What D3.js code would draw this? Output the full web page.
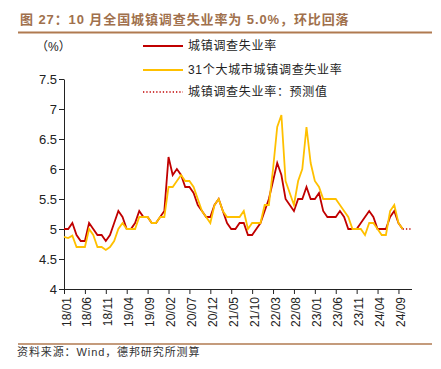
<!DOCTYPE html>
<html>
<head>
<meta charset="utf-8">
<script src="https://cdn.jsdelivr.net/npm/d3@7/dist/d3.min.js"></script>
<style>
  body { margin: 0; background: #fff; }
  svg text { font-family: "Liberation Sans", Arial, sans-serif; }
  .cjk { font-family: "Liberation Sans", "Noto Sans CJK SC", sans-serif; }
  .axis path, .axis line { stroke: #222; }
  .axis text { fill: #222; }
</style>
</head>
<body>
<div id="chart"></div>
<script>
// Chart data
// ----------

// 18/01 .. 24/10, monthly
let months = []
for (let y = 18; y <= 24; y++) {
  for (let m = 1; m <= 12; m++) months.push(y + '/' + String(m).padStart(2, '0'))
}
months = months.slice(0, 82)

let forecastMonths = ['24/10', '24/11', '24/12']
let forecastRate = [5.0, 5.0, 5.0]

let tickLabels = ['18/01', '18/06', '18/11', '19/04', '19/09', '20/02', '20/07', '20/12',
                  '21/05', '21/10', '22/03', '22/08', '23/01', '23/06', '23/11', '24/04', '24/09']
let yTicks = [4, 4.5, 5, 5.5, 6, 6.5, 7, 7.5]

// 城镇调查失业率 (%)
let urbanRate = [
  5.0, 5.0, 5.1, 4.9, 4.8, 4.8, 5.1, 5.0, 4.9, 4.9, 4.8, 4.9,
  5.1, 5.3, 5.2, 5.0, 5.0, 5.1, 5.3, 5.2, 5.2, 5.1, 5.1, 5.2,
  5.3, 6.2, 5.9, 6.0, 5.9, 5.7, 5.7, 5.6, 5.4, 5.3, 5.2, 5.2,
  5.4, 5.5, 5.3, 5.1, 5.0, 5.0, 5.1, 5.1, 4.9, 4.9, 5.0, 5.1,
  5.3, 5.5, 5.8, 6.1, 5.9, 5.5, 5.4, 5.3, 5.5, 5.5, 5.7, 5.5,
  5.5, 5.6, 5.3, 5.2, 5.2, 5.2, 5.3, 5.2, 5.0, 5.0, 5.0, 5.1,
  5.2, 5.3, 5.2, 5.0, 5.0, 5.0, 5.2, 5.3, 5.1, 5.0
]

// 31个大城市城镇调查失业率 (%)
let bigCityRate = [
  4.87, 4.85, 4.89, 4.7, 4.7, 4.7, 5.0, 4.9, 4.7, 4.7, 4.65, 4.7,
  4.8, 5.0, 5.1, 5.0, 5.0, 5.0, 5.2, 5.2, 5.2, 5.1, 5.1, 5.2,
  5.2, 5.7, 5.7, 5.8, 5.9, 5.8, 5.8, 5.7, 5.5, 5.3, 5.2, 5.1,
  5.4, 5.5, 5.3, 5.2, 5.2, 5.2, 5.2, 5.3, 5.0, 5.1, 5.1, 5.1,
  5.4, 5.4, 6.0, 6.7, 6.9, 5.8, 5.6, 5.4, 5.8, 6.0, 6.7, 6.1,
  5.8, 5.7, 5.5, 5.5, 5.5, 5.5, 5.4, 5.3, 5.2, 5.0, 5.0, 5.0,
  4.9, 5.1, 5.1, 5.0, 4.9, 4.9, 5.3, 5.4, 5.1, 5.0
]

let legendNames = ['城镇调查失业率', '31个大城市城镇调查失业率', '城镇调查失业率：预测值']

// Setup
// -----
let width = 441,
    height = 369,
    brown = '#a0704c',
    red = '#c00000',
    orange = '#ffc000'

let svg = d3.select('#chart').append('svg')
    .attr('width', width)
    .attr('height', height)

// Title and rules
svg.append('text')
  .attr('class', 'cjk')
  .attr('x', 20)
  .attr('y', 24)
  .attr('fill', brown)
  .style('font-size', '13px')
  .style('font-weight', 'bold')
  .style('letter-spacing', '0.9px')
  .text('图 27：10 月全国城镇调查失业率为 5.0%，环比回落')

svg.append('line')
  .attr('x1', 18).attr('x2', 432)
  .attr('y1', 32.5).attr('y2', 32.5)
  .attr('stroke', '#b07a50')
  .attr('stroke-width', 2)

svg.append('line')
  .attr('x1', 18).attr('x2', 432)
  .attr('y1', 344).attr('y2', 344)
  .attr('stroke', '#b07a50')
  .attr('stroke-width', 1.5)

svg.append('text')
  .attr('class', 'cjk')
  .attr('x', 17)
  .attr('y', 356)
  .attr('fill', '#333')
  .style('font-size', '11px')
  .style('letter-spacing', '0.9px')
  .text('资料来源：Wind，德邦研究所测算')

// Scales
let xScale = d3.scalePoint()
    .domain(months.concat(forecastMonths.slice(1)))
    .range([64, 411])

let yScale = d3.scaleLinear()
    .domain([4, 7.5])
    .range([289, 79])

// Axes
let xAxis = d3.axisBottom(xScale)
    .tickValues(tickLabels)
    .tickSize(5)
    .tickSizeOuter(0)

let yAxis = d3.axisLeft(yScale)
    .tickValues(yTicks)
    .tickSize(5)
    .tickSizeOuter(0)
    .tickFormat(d => d)

let gx = svg.append('g')
  .attr('class', 'axis axis-x')
  .attr('transform', 'translate(0,' + yScale(4) + ')')
  .call(xAxis)

gx.select('.domain').attr('d', 'M64,0.5H412')

gx.selectAll('text')
  .attr('transform', 'rotate(-90)')
  .attr('text-anchor', 'end')
  .attr('x', -8)
  .attr('y', 0)
  .attr('dy', '0.5em')
  .style('font-size', '12px')

svg.append('g')
  .attr('class', 'axis axis-y')
  .attr('transform', 'translate(64,0)')
  .call(yAxis)
  .selectAll('text')
  .attr('x', -7)
  .style('font-size', '13px')

svg.append('text')
  .attr('class', 'cjk')
  .attr('x', 36)
  .attr('y', 51)
  .attr('fill', '#222')
  .style('font-size', '12px')
  .text('（%）')

// Lines
let line = d3.line()
    .x(d => xScale(d.month))
    .y(d => yScale(d.value))

let toPoints = (keys, vals) => keys.map((k, i) => ({ month: k, value: vals[i] }))

svg.append('path')
  .datum(toPoints(forecastMonths, forecastRate))
  .attr('d', line)
  .attr('fill', 'none')
  .attr('stroke', red)
  .attr('stroke-width', 1.3)
  .attr('stroke-dasharray', '1.3,2')

svg.append('path')
  .datum(toPoints(months, urbanRate))
  .attr('d', line)
  .attr('fill', 'none')
  .attr('stroke', red)
  .attr('stroke-width', 1.8)

svg.append('path')
  .datum(toPoints(months, bigCityRate))
  .attr('d', line)
  .attr('fill', 'none')
  .attr('stroke', orange)
  .attr('stroke-width', 1.8)

// Legend
let legend = svg.append('g').attr('class', 'legend')
let legendStyles = [
  { color: red, dash: null, width: 1.8 },
  { color: orange, dash: null, width: 1.8 },
  { color: red, dash: '1.3,2', width: 1.3 }
]
let legendY = [46, 70, 92]

legendNames.forEach((name, i) => {
  legend.append('line')
    .attr('x1', 143).attr('x2', 183)
    .attr('y1', legendY[i]).attr('y2', legendY[i])
    .attr('stroke', legendStyles[i].color)
    .attr('stroke-width', legendStyles[i].width)
    .attr('stroke-dasharray', legendStyles[i].dash)

  legend.append('text')
    .attr('class', 'cjk')
    .attr('x', 188)
    .attr('y', legendY[i])
    .attr('dy', '0.36em')
    .attr('fill', '#222')
    .style('font-size', '12px')
    .style('letter-spacing', '0.7px')
    .text(name)
})
</script>
</body>
</html>
